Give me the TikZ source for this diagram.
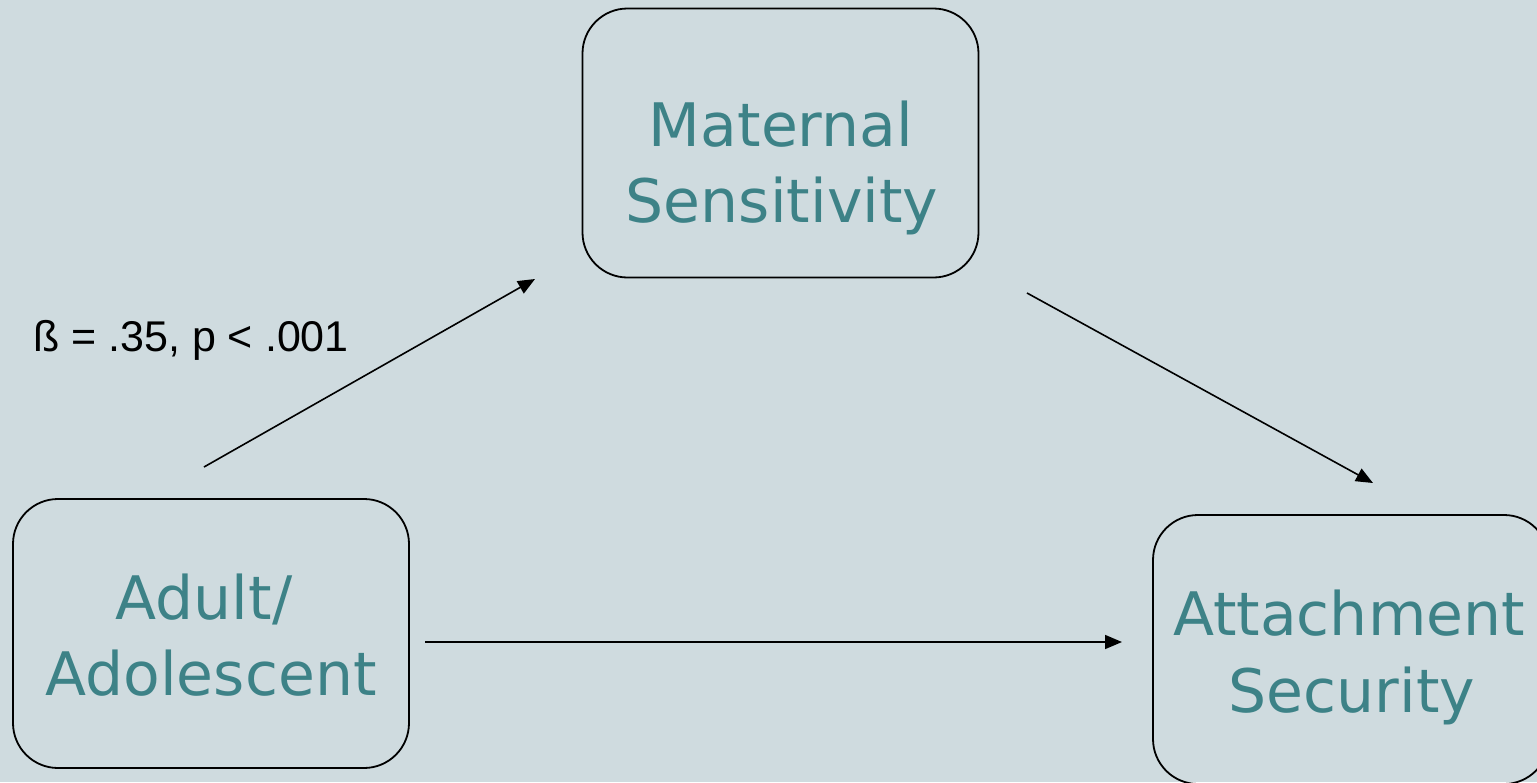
\documentclass[tikz,border=0pt]{standalone}
\usepackage{fontspec}
\newfontfamily\boxfont{DejaVu Sans}
\newfontfamily\lblfont{Liberation Sans}
\usetikzlibrary{arrows.meta}
\definecolor{bg}{HTML}{CFDBDF}
\definecolor{teal}{HTML}{3D8287}
\tikzset{
  box/.style={draw=black, line width=1.8pt, rounded corners=45pt, minimum width=396pt, minimum height=269pt, inner sep=0pt},
  boxtxt/.style={anchor=base, inner sep=0pt, text=teal, font=\boxfont\fontsize{60}{72}\selectfont},
  conn/.style={line width=1.6pt, -{Triangle[length=17pt,width=14pt]}},
  lbl/.style={anchor=base west, inner sep=0pt, font=\lblfont\fontsize{43}{48}\selectfont}
}
\begin{document}
\begin{tikzpicture}[x=1pt,y=-1pt]
\useasboundingbox (0,0) rectangle (1537,782);
\fill[bg] (0,0) rectangle (1537,782);
\clip (0,0) rectangle (1537,782);
% boxes
\node[box] (ms) at (780.5,143) {};
\node[box] (aa) at (211,633.5) {};
\node[box] (as) at (1351,649.5) {};
% texts
\node[boxtxt] (ms1) at (781,146) {Maternal};
\node[boxtxt] (ms2) at (782,222) {Sensitivity};
\node[boxtxt] (aa1) at (204,619) {Adult/};
\node[boxtxt] (aa2) at (211,695) {Adolescent};
\node[boxtxt] (as1) at (1349,635) {Attachment};
\node[boxtxt] (as2) at (1352,712) {Security};
% connector ends
\coordinate (a1) at (204,467);
\coordinate (a2) at (535,279);
\coordinate (b1) at (1027,293);
\coordinate (b2) at (1373,483);
\coordinate (c1) at (425,642);
\coordinate (c2) at (1122,642);
\draw[conn] (a1) -- (a2);
\draw[conn] (b1) -- (b2);
\draw[conn] (c1) -- (c2);
% label
\node[lbl] (beta) at (33,351) {ß = .35, p < .001};
\end{tikzpicture}
\end{document}
